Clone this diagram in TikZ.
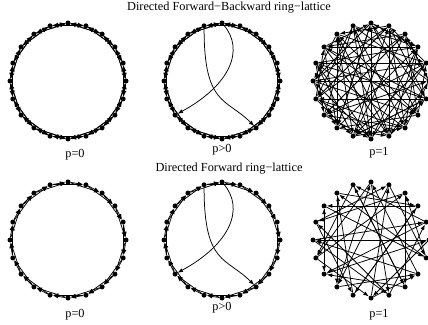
\documentclass[tikz,border=0pt]{standalone}
\usepackage{fontspec}
\setmainfont{Liberation Serif}
\usetikzlibrary{arrows.meta}

\begin{document}
\begin{tikzpicture}[x=1pt,y=1pt,font=\fontsize{12.3}{14}\selectfont,
  vert/.style={circle,fill=black,inner sep=0pt,minimum size=5pt},
  arc/.style={-{Latex[length=5.5pt,width=4pt]},line width=.75pt}]
  \useasboundingbox (0,0) rectangle (428,324);

  \node (topttl) at (229,316) {Directed Forward−Backward ring−lattice};
  \node (botttl) at (229,155) {Directed Forward ring−lattice};

  \node (pa) at (75,169) {p=0};
  \node (pb) at (222,174) {p>0};
  \node (pc) at (379,171) {p=1};
  \node (pd) at (75,9) {p=0};
  \node (pe) at (222,16) {p>0};
  \node (pf) at (379,9) {p=1};

  % vertices of the six rings
  \foreach \p/\cx/\cy in {a/68/243,b/222/243,c/371/243,d/68/84,e/222/84,f/371/84}
    \foreach \i in {0,...,19}
      \node[vert] (\p\i) at ({\cx+58*cos(90-18*\i)},{\cy+58*sin(90-18*\i)}) {};

  % ring-lattice, forward
  \foreach \p in {a,b,d,e}
    \foreach \i in {0,...,19} {
      \pgfmathtruncatemacro\j{mod(\i+1,20)}
      \pgfmathtruncatemacro\k{mod(\i+2,20)}
      \draw[arc] (\p\i) -- (\p\j);
      \draw[arc] (\p\i) -- (\p\k);
    }
  % ring-lattice, backward
  \foreach \p in {a,b}
    \foreach \i in {0,...,19} {
      \pgfmathtruncatemacro\j{mod(\i+1,20)}
      \pgfmathtruncatemacro\k{mod(\i+2,20)}
      \draw[arc] (\p\j) -- (\p\i);
      \draw[arc] (\p\k) -- (\p\i);
    }

  % rewired
  \foreach \p in {b,e} {
    \draw[arc] (\p19) .. controls +(0,-80) and +(-30,30) .. (\p8);
    \draw[arc] (\p0) .. controls +(23,-27) and +(55,30) .. (\p13);
  }

  % random, p=1
  \foreach \s/\ts in {0/{7,12,15,3},1/{9,14,6,18},2/{11,17,5,13},3/{17,10,0,8},
      4/{16,11,1,13},5/{15,9,19,2},6/{14,0,11,17},7/{2,18,12,4},8/{16,1,13,5},
      9/{3,19,6,14},10/{0,15,4,18},11/{6,1,16,8},12/{18,3,9,0},13/{5,10,19,2},
      14/{8,2,11,17},15/{1,7,12,4},16/{10,3,6,13},17/{7,12,0,9},18/{4,9,15,11},
      19/{8,14,3,10}}
    \foreach \t in \ts
      \draw[arc] (c\s) -- (c\t);

  \foreach \s/\ts in {0/{9,14},1/{12,6},2/{16,8},3/{17,11},4/{13,19},5/{15,10},
      6/{18,2},7/{0,15},8/{19,13},9/{4,16},10/{1,7},11/{3,18},12/{7,0},
      13/{5,17},14/{10,2},15/{9,4},16/{11,1},17/{6,13},18/{12,3},19/{14,8}}
    \foreach \t in \ts
      \draw[arc] (f\s) -- (f\t);
\end{tikzpicture}
\end{document}
